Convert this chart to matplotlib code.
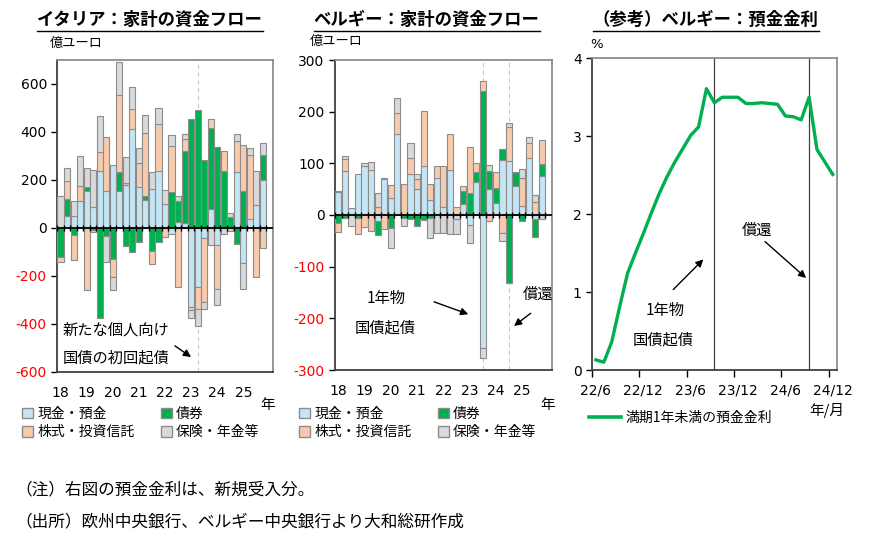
"""Household fund flows (Italy / Belgium) and Belgian deposit rate."""
import numpy as np
import matplotlib
matplotlib.use("Agg")
import matplotlib.pyplot as plt
from matplotlib.lines import Line2D
from matplotlib.patches import Patch

plt.rcParams["font.family"] = ["DejaVu Sans", "Noto Sans CJK JP"]
JP = ["Noto Sans CJK JP", "DejaVu Sans"]

# ---- data -------------------------------------------------------------
year_labels = ["18", "19", "20", "21", "22", "23", "24", "25"]
series_names = ["現金・預金", "債券", "株式・投資信託", "保険・年金等"]

# Italy, quarterly 2018Q1-, 億ユーロ
it_cash = [0, 51, 51, 113, 152, 88, 238, 155, 260, 155, 180, 412, 172, 115, 162, 237,
           98, -25, 24, 20, -331, -248, -43, 79, -71, 0, 0, 232, -147, 35, 97, 200]
it_bond = [-121, 70, -28, 0, 17, -10, -377, -36, -130, 77, -74, -99, -60, 16, -95, -57,
           0, 150, 88, 300, 452, 492, 281, 338, 339, 236, 44, -67, 153, 0, 0, 104]
it_equity = [-21, 76, -107, 63, -260, -8, 77, 222, -77, 324, 8, 84, 98, 264, -54, 196,
             -37, 193, -245, 52, -11, -90, -267, 35, -183, 86, -14, 129, 193, 267, -203, -85]
it_ins = [132, 53, 63, 125, 80, 152, 151, -107, -52, 135, 107, 90, 62, 77, 70, 68,
          58, 45, 22, 20, -33, -72, -30, -71, -66, -25, 17, 31, -107, 30, 139, 49]

# Belgium, quarterly 2018Q1-, 億ユーロ
be_cash = [44, 86, 13, 79, 95, 87, -12, 70, 32, 157, 0, 79, 50, 94, 30, 72,
           16, 87, -8, 21, -19, 63, -258, 51, 23, 106, 104, 56, 17, 110, -7, 75]
be_bond = [-16, -6, 0, -6, 0, 0, -26, 0, -26, 0, -6, -8, -21, -10, -5, 0,
           0, 0, 0, 25, 42, 20, 240, 34, 29, 21, -132, 27, -12, 0, -35, 23]
be_equity = [-16, 22, 0, -31, -24, -31, 16, -28, 26, 40, 60, 32, 20, 108, 30, 22,
             78, 70, 15, 11, 89, 18, 20, -12, 31, -34, 66, 0, 55, 30, 25, 48]
be_ins = [3, 7, -21, 0, 5, 16, 27, 2, -37, 30, -16, 28, 9, 0, -39, -35,
          -34, -36, -28, 0, -35, 0, -18, 11, 0, -16, 9, 0, 18, 10, 14, -8]

# Belgium new-business deposit rate (<1y), monthly 2022/6 - 2024/12, %
rate_labels = ["22/6", "22/12", "23/6", "23/12", "24/6", "24/12"]
rate = [0.13, 0.10, 0.36, 0.81, 1.24, 1.50, 1.75, 2.01, 2.26, 2.48, 2.67, 2.84, 3.01,
        3.12, 3.61, 3.43, 3.50, 3.50, 3.50, 3.42, 3.42, 3.43, 3.42, 3.41, 3.26, 3.25,
        3.21, 3.50, 2.83, 2.67, 2.51]

colors = ["#c5e5f5", "#00b050", "#f8cbad", "#d9d9d9"]
EDGE = "#8c8c8c"

fig = plt.figure(figsize=(8.71, 5.38), dpi=100)
W, H = 871, 538


def add_ax(x0, y0, x1, y1):
    return fig.add_axes([x0 / W, 1 - y1 / H, (x1 - x0) / W, (y1 - y0) / H])


def style_spines(ax):
    for side in ("top", "right"):
        ax.spines[side].set_color("#8c8c8c")
        ax.spines[side].set_linewidth(1.3)
    for side in ("left", "bottom"):
        ax.spines[side].set_color("#404040")
        ax.spines[side].set_linewidth(1.3)


def flow_panel(ax, series, ylim, yticks, marks):
    n = len(series[0])
    x = np.arange(n)
    pos = np.zeros(n)
    neg = np.zeros(n)
    for vals, col in zip(series, colors):
        v = np.asarray(vals, dtype=float)
        up = v > 0
        dn = v < 0
        ax.bar(x[up], v[up], bottom=pos[up], width=0.94, color=col,
               edgecolor=EDGE, linewidth=0.8, zorder=3)
        ax.bar(x[dn], v[dn], bottom=neg[dn], width=0.94, color=col,
               edgecolor=EDGE, linewidth=0.8, zorder=3)
        pos += np.where(up, v, 0)
        neg += np.where(dn, v, 0)
    for m in marks:
        ax.axvline(m, color="#c8c8c8", lw=0.8, ls=(0, (4, 3)), zorder=1)
    ax.axhline(0, color="black", lw=1.3, zorder=4)
    ax.plot(np.arange(n + 1) - 0.5, np.zeros(n + 1), ls="none", marker="|",
            color="black", ms=5, mew=1.0, zorder=4)
    ax.set_xlim(-0.5, n + 0.5)
    ax.set_ylim(*ylim)
    ax.set_yticks(yticks)
    ax.set_yticklabels([str(t) for t in yticks])
    for lab, t in zip(ax.get_yticklabels(), yticks):
        lab.set_color("red" if t < 0 else "black")
    ax.set_xticks(np.arange(0, n, 4))
    ax.set_xticklabels(year_labels)
    ax.tick_params(axis="x", length=0, pad=10, labelsize=10)
    ax.tick_params(axis="y", length=4, width=1, labelsize=10, direction="out")
    style_spines(ax)


ax1 = add_ax(57.3, 60, 272.7, 371.7)
flow_panel(ax1, [it_cash, it_bond, it_equity, it_ins], (-600, 700),
           list(range(-600, 601, 200)), [21])

ax2 = add_ax(335, 60, 551.7, 370)
flow_panel(ax2, [be_cash, be_bond, be_equity, be_ins], (-300, 300),
           list(range(-300, 301, 100)), [22, 26])

# ---- right: deposit rate ----------------------------------------------
ax3 = add_ax(592, 58.3, 836.7, 370)
xr = np.arange(len(rate))
ax3.plot(xr, rate, color="#00b050", lw=2.4, zorder=3)
ax3.axvline(15, color="#404040", lw=0.9, zorder=2)
ax3.axvline(27, color="#404040", lw=0.9, zorder=2)
ax3.set_xlim(-0.5, len(rate) - 0.5)
ax3.set_ylim(0, 4)
ax3.set_yticks(range(0, 5))
ax3.set_xticks(np.arange(-0.5, len(rate), 6))
ax3.set_xticklabels([])
ax3.set_xticks(np.arange(0, len(rate), 6), minor=True)
ax3.set_xticklabels(rate_labels, minor=True)
ax3.tick_params(axis="x", which="major", length=5, width=1, direction="out")
ax3.tick_params(axis="x", which="minor", length=0, pad=10, labelsize=10)
ax3.tick_params(axis="y", length=4, width=1, labelsize=10, direction="out")
style_spines(ax3)

# ---- annotations ------------------------------------------------------
arrow = dict(arrowstyle="-|>", color="black", lw=1.0, mutation_scale=11,
             shrinkA=0, shrinkB=0)
ax1.text(0.026, 0.133, "新たな個人向け", transform=ax1.transAxes, family=JP,
         fontsize=11, va="center")
ax1.text(0.026, 0.044, "国債の初回起債", transform=ax1.transAxes, family=JP,
         fontsize=11, va="center")
ax1.annotate("", xy=(0.621, 0.047), xytext=(0.546, 0.083),
             xycoords="axes fraction", arrowprops=arrow)

ax2.text(0.235, 0.231, "1年物", transform=ax2.transAxes, family=JP,
         fontsize=11, va="center", ha="center")
ax2.text(0.231, 0.135, "国債起債", transform=ax2.transAxes, family=JP,
         fontsize=11, va="center", ha="center")
ax2.annotate("", xy=(0.615, 0.180), xytext=(0.457, 0.220),
             xycoords="axes fraction", arrowprops=arrow)
ax2.text(0.935, 0.245, "償還", transform=ax2.transAxes, family=JP,
         fontsize=11, va="center", ha="center")
ax2.annotate("", xy=(0.826, 0.142), xytext=(0.903, 0.183),
             xycoords="axes fraction", arrowprops=arrow)

ax3.text(0.298, 0.19, "1年物", transform=ax3.transAxes, family=JP,
         fontsize=11, va="center", ha="center")
ax3.text(0.291, 0.096, "国債起債", transform=ax3.transAxes, family=JP,
         fontsize=11, va="center", ha="center")
ax3.annotate("", xy=(0.455, 0.355), xytext=(0.332, 0.258),
             xycoords="axes fraction", arrowprops=arrow)
ax3.text(0.675, 0.449, "償還", transform=ax3.transAxes, family=JP,
         fontsize=11, va="center", ha="center")
ax3.annotate("", xy=(0.875, 0.295), xytext=(0.707, 0.412),
             xycoords="axes fraction", arrowprops=arrow)

# ---- titles, units ----------------------------------------------------
titles = [
    fig.text(150 / W, 1 - 20 / H, "イタリア：家計の資金フロー", family=JP,
             fontsize=12.5, fontweight="bold", ha="center", va="center"),
    fig.text(426.7 / W, 1 - 20 / H, "ベルギー：家計の資金フロー", family=JP,
             fontsize=12.5, fontweight="bold", ha="center", va="center"),
    fig.text(705.7 / W, 1 - 20 / H, "（参考）ベルギー：預金金利", family=JP,
             fontsize=12.5, fontweight="bold", ha="center", va="center"),
]
fig.text(50 / W, 1 - 43 / H, "億ユーロ", family=JP, fontsize=9.5, va="center")
fig.text(310 / W, 1 - 41.7 / H, "億ユーロ", family=JP, fontsize=9.5, va="center")
fig.text(590 / W, 1 - 45 / H, "%", fontsize=9.5, va="center")
fig.text(268 / W, 1 - 405 / H, "年", family=JP, fontsize=10.5, va="center", ha="center")
fig.text(548 / W, 1 - 405 / H, "年", family=JP, fontsize=10.5, va="center", ha="center")
fig.text(827 / W, 1 - 410 / H, "年/月", family=JP, fontsize=10.5, va="center", ha="center")

# ---- legends ----------------------------------------------------------
handles = [Patch(facecolor=c, edgecolor=EDGE, linewidth=1) for c in colors]
order = [0, 2, 1, 3]
for lx in (22, 299):
    fig.legend([handles[i] for i in order], [series_names[i] for i in order],
               loc="upper left", bbox_to_anchor=(lx / W, 1 - 407 / H), ncol=2,
               frameon=False, prop={"family": JP, "size": 10}, handlelength=0.8,
               handleheight=0.8, handletextpad=0.3, columnspacing=1.9,
               labelspacing=0.3, borderpad=0, borderaxespad=0)
fig.legend([Line2D([0], [0], color="#00b050", lw=2.6)], ["満期1年未満の預金金利"],
           loc="upper left", bbox_to_anchor=(589 / W, 1 - 411 / H), frameon=False,
           prop={"family": JP, "size": 10}, handlelength=2.3, handletextpad=0.3,
           borderpad=0, borderaxespad=0)

# ---- notes ------------------------------------------------------------
fig.text(15 / W, 1 - 490 / H, "（注）右図の預金金利は、新規受入分。", family=JP,
         fontsize=12, va="center")
fig.text(15 / W, 1 - 521.7 / H, "（出所）欧州中央銀行、ベルギー中央銀行より大和総研作成",
         family=JP, fontsize=12, va="center")

# underline the titles
fig.canvas.draw()
renderer = fig.canvas.get_renderer()
inv = fig.transFigure.inverted()
for t in titles:
    bb = t.get_window_extent(renderer)
    (x0, y0), (x1, _) = inv.transform([(bb.x0, bb.y0), (bb.x1, bb.y1)])
    fig.add_artist(Line2D([x0, x1], [y0 - 1.5 / H, y0 - 1.5 / H],
                          transform=fig.transFigure, color="black", lw=1.0))

fig.savefig("out.png", dpi=100)
